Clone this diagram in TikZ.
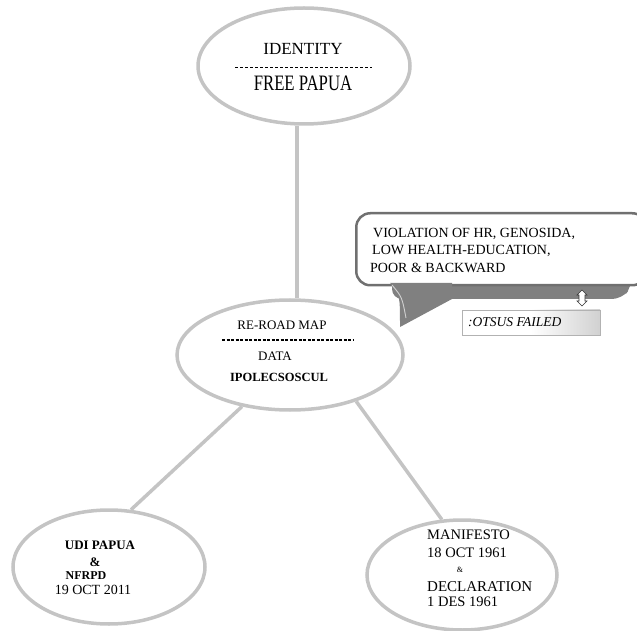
\documentclass[tikz,border=0pt]{standalone}
\usepackage{fontspec}
\setmainfont{Liberation Serif}
\usetikzlibrary{shapes.geometric,calc}
\definecolor{linegray}{RGB}{196,196,196}
\definecolor{shadowgray}{RGB}{128,128,128}
\definecolor{bordergray}{RGB}{112,112,112}
\tikzset{
  bubble/.style={ellipse, draw=linegray, line width=3.5pt, fill=white, inner sep=0pt},
  link/.style={draw=linegray, line width=3.5pt},
  sepline/.style={draw=black, line width=1pt, dash pattern=on 3pt off 2pt},
  txt/.style={inner sep=0pt, font=\fontsize{14}{16}\selectfont},
}
\begin{document}
\begin{tikzpicture}[x=1pt,y=1pt]
\useasboundingbox (0,0) rectangle (637,630);
\clip (0,0) rectangle (637,630);
% ellipses
\node[bubble, minimum width=212pt, minimum height=116pt] (top) at (304,564) {};
\node[bubble, minimum width=226pt, minimum height=110pt] (mid) at (290,275) {};
\node[bubble, minimum width=192pt, minimum height=114pt] (bl) at (109,63) {};
\node[bubble, minimum width=190pt, minimum height=110pt] (br) at (462,55) {};
% connectors
\coordinate (vx) at (297,0);
\draw[link] (top.south -| vx) -- (mid.north -| vx);
\draw[link] (mid.227.9) -- (bl.69);
\draw[link] (mid.325.3) -- (br.110.8);
% top texts
\node[txt, font=\fontsize{17}{19}\selectfont] (t1) at (303,581) {IDENTITY};
\coordinate (d1a) at (235,562);
\coordinate (d1b) at (372,562);
\draw[sepline] (d1a) -- (d1b);
\node[txt, font=\fontsize{22}{24}\selectfont, xscale=0.76] (t2) at (303,547) {FREE PAPUA};
% middle texts
\node[txt, font=\fontsize{13}{15}\selectfont] (m1) at (282,305) {RE-ROAD MAP};
\coordinate (d2a) at (222,290);
\coordinate (d2b) at (353,290);
\draw[draw=black, line width=1.6pt, dash pattern=on 3pt off 1.5pt] (d2a) -- (d2b);
\node[txt, font=\fontsize{13}{15}\selectfont] (m2) at (275,274) {DATA};
\node[txt, font=\fontsize{12.5}{15}\bfseries\selectfont] (m3) at (279,253) {IPOLECSOSCUL};
% callout shadow band
\fill[shadowgray, rounded corners=10pt] (392,360) -- (392,331) -- (622,331) -- (632,344) -- (632,360) -- cycle;
% callout body
\node[draw=bordergray, line width=2.5pt, fill=white, rounded corners=14pt, minimum width=290pt, minimum height=72pt, anchor=north west, inner sep=0pt] (call) at (355,418) {};
% tail
\coordinate (tip) at (400,303);
\fill[shadowgray] (390,347.2) .. controls (400,335) .. (tip) -- (452,331) -- (452,347.2) -- cycle;
\draw[white!82!black, line width=0.9pt] (392,345) .. controls (402,333) .. (406,312);
\node[txt, anchor=base west] (c1) at (373,392) {VIOLATION OF HR, GENOSIDA,};
\node[txt, anchor=base west] (c2) at (372,375) {LOW HEALTH-EDUCATION,};
\node[txt, anchor=base west] (c3) at (370,357) {POOR \& BACKWARD};
% small double arrow
\draw[black!80, fill=white, line width=0.6pt] (582,340) -- (587,335) -- (585,335) -- (585,329) -- (587,329) -- (582,324) -- (577,329) -- (579,329) -- (579,335) -- (577,335) -- cycle;
% OTSUS box
\shade[left color=white, right color=black!18, middle color=white] (462,295) rectangle (600,320);
\node[draw=black!30, line width=0.6pt, minimum width=138pt, minimum height=25pt, anchor=north west, inner sep=0pt] (otsus) at (462,320) {};
\node[txt, anchor=west, font=\fontsize{13.5}{15}\itshape\selectfont] (otxt) at (468,307.5) {:OTSUS FAILED};
% bottom left texts
\node[txt, font=\fontsize{13}{15}\bfseries\selectfont] (b1) at (100,85) {UDI PAPUA};
\node[txt, font=\fontsize{13}{15}\bfseries\selectfont] (b2) at (95,68) {\&};
\node[txt, font=\fontsize{12}{15}\bfseries\selectfont] (b3) at (86,54) {NFRPD};
\node[txt] (b4) at (93,40) {19 OCT 2011};
% bottom right texts
\node[txt, anchor=west, font=\fontsize{14.5}{16}\selectfont] (r1) at (427,95) {MANIFESTO};
\node[txt, anchor=west, font=\fontsize{14.5}{16}\selectfont] (r2) at (427,77) {18 OCT 1961};
\node[txt, font=\fontsize{8}{9}\selectfont] (r3) at (460,60) {\&};
\node[txt, anchor=west, font=\fontsize{15}{16}\selectfont] (r4) at (427,43) {DECLARATION};
\node[txt, anchor=west, font=\fontsize{14.5}{16}\selectfont] (r5) at (427,28) {1 DES 1961};
\end{tikzpicture}
\end{document}
